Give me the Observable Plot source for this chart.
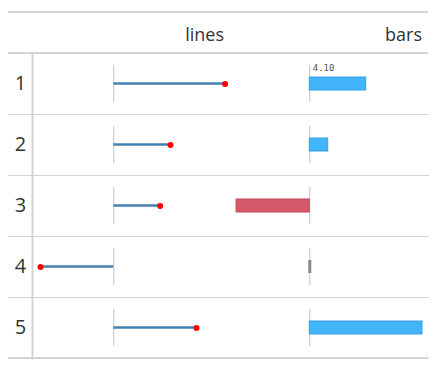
<!DOCTYPE html>
<html>
<head>
<meta charset="utf-8">
<script src="https://cdn.jsdelivr.net/npm/d3@7"></script>
<script src="https://cdn.jsdelivr.net/npm/@observablehq/plot@0.6"></script>
<style>
  html, body { margin: 0; padding: 0; background: #fff; }
  #wrap { position: relative; width: 436px; height: 371px; font-family: "Open Sans", sans-serif; color: #333; }
  .rule { position: absolute; left: 8px; width: 420px; height: 2px; background: #d3d3d3; }
  .hdr { position: absolute; top: 25px; font-size: 18px; line-height: 18px; white-space: nowrap; }
  #chart { position: absolute; left: 0; top: 53px; }
</style>
</head>
<body>
<div id="wrap">
  <div class="rule" style="top:11px"></div>
  <span class="hdr" id="h0" style="right:212px"></span>
  <span class="hdr" id="h1" style="right:14px"></span>
  <div class="rule" style="top:52px"></div>
  <div id="chart"></div>
  <div class="rule" style="top:357px"></div>
</div>
<script>
const rowIds = [1, 2, 3, 4, 5];
const lineValues = [8.09, 4.12, 3.37, -5.32, 6.01];
const barValues = [4.10, 1.34, -5.32, 0, 8.19];
const headers = ["lines", "bars"];
const labeledRows = [1];

document.getElementById("h0").textContent = headers[0];
document.getElementById("h1").textContent = headers[1];

const rows = rowIds.map((r, i) => ({row: r, line: lineValues[i], bar: barValues[i]}));
const barShift = 196;

const plot = Plot.plot({
  width: 436,
  height: 318,
  marginTop: 0,
  marginBottom: 13,
  marginLeft: 8,
  marginRight: 8,
  style: {fontFamily: "Open Sans, sans-serif", color: "#333", background: "transparent"},
  x: {domain: [-7.65, 22.87], axis: null},
  fy: {domain: rowIds, padding: 0, axis: null},
  marks: [
    Plot.frame({anchor: "bottom", stroke: "#d3d3d3"}),
    Plot.frame({anchor: "left", stroke: "#d3d3d3", strokeWidth: 2, dx: 24}),
    Plot.text(rows, {fy: "row", text: d => String(d.row), frameAnchor: "left", dx: 12, textAnchor: "middle", fontSize: 20, fill: "#333"}),
    // lines column
    Plot.ruleX(rows, {x: () => 0, fy: "row", stroke: "#c4c4c4", insetTop: 12, insetBottom: 12}),
    Plot.barX(rows, {x1: () => 0, x2: "line", fy: "row", fill: "steelblue", insetTop: 29.25, insetBottom: 29.25}),
    Plot.dot(rows, {x: "line", fy: "row", r: 3, fill: "red"}),
    // bars column
    Plot.ruleX(rows, {x: () => 0, fy: "row", stroke: "#c4c4c4", insetTop: 12, insetBottom: 12, dx: barShift}),
    Plot.barX(rows.filter(d => d.bar !== 0), {
      x1: () => 0, x2: "bar", fy: "row",
      fill: d => d.bar > 0 ? "#42b4fa" : "#d6596a",
      stroke: d => d.bar > 0 ? "#3a9fe2" : "#c44858",
      insetTop: 24, insetBottom: 24, dx: barShift
    }),
    Plot.tickX(rows.filter(d => d.bar === 0), {x: "bar", fy: "row", stroke: "#888", strokeWidth: 3, insetTop: 24, insetBottom: 24, dx: barShift}),
    Plot.text(rows.filter(d => labeledRows.includes(d.row)), {
      x: () => 0, fy: "row", text: d => d.bar.toFixed(2),
      frameAnchor: "top", lineAnchor: "top", dy: 11, dx: barShift + 3,
      textAnchor: "start", fontFamily: "DejaVu Sans Mono", fontSize: 9, fill: "#555"
    })
  ]
});
document.getElementById("chart").appendChild(plot);
</script>
</body>
</html>
